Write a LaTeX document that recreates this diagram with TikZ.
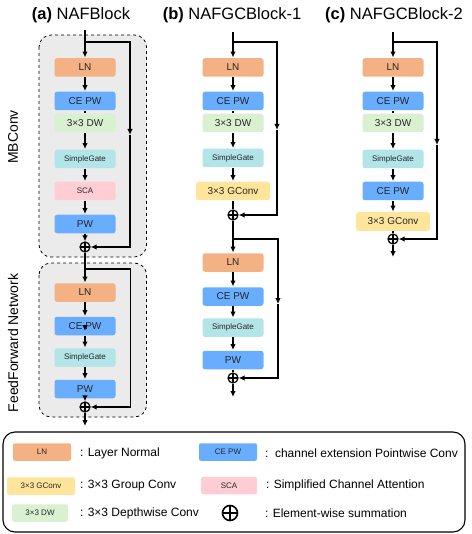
\documentclass[tikz,border=0pt]{standalone}
\usepackage{fontspec}
\setmainfont{Liberation Sans}
\usetikzlibrary{arrows.meta}

\definecolor{lncol}{HTML}{F4B183}
\definecolor{pwcol}{HTML}{69ADFF}
\definecolor{dwcol}{HTML}{D9F0D1}
\definecolor{sgcol}{HTML}{B3E4E7}
\definecolor{scacol}{HTML}{FFCDD3}
\definecolor{gccol}{HTML}{FFE59B}
\definecolor{groupcol}{HTML}{EBEBEB}

\tikzset{
    blk/.style={rounded corners=2.5pt, minimum width=61pt, minimum height=18.5pt,
        inner sep=0pt, text=black!85, font=\fontsize{10}{12}\selectfont},
    smalltxt/.style={font=\fontsize{8}{10}\selectfont},
    wideblk/.style={minimum width=74pt},
    summ/.style={circle, draw, line width=1.2pt, minimum size=10pt, inner sep=0pt,
        path picture={\draw[line width=1.2pt]
            (path picture bounding box.north) -- (path picture bounding box.south)
            (path picture bounding box.west) -- (path picture bounding box.east);}},
    groupbox/.style={draw, dashed, fill=groupcol, rounded corners=12pt, line width=0.8pt},
    title/.style={font=\fontsize{16.5}{18}\selectfont},
    sidelabel/.style={rotate=90, font=\fontsize{14}{16}\selectfont},
    legtxt/.style={anchor=west, font=\fontsize{12}{14}\selectfont},
    legblk/.style={rounded corners=2pt, minimum height=17.5pt, inner sep=0pt,
        text=black!85, font=\fontsize{8}{9}\selectfont}
}

\begin{document}
\begin{tikzpicture}[x=1pt, y=-1pt, line width=1.4pt,
    >={Latex[length=6pt,width=5.5pt]}]
    \useasboundingbox (0,0) rectangle (471,534);

    % titles
    \node[title] (ta) at (81,15) {\textbf{(a)} NAFBlock};
    \node[title] (tb) at (232,15) {\textbf{(b)} NAFGCBlock-1};
    \node[title] (tc) at (394,15) {\textbf{(c)} NAFGCBlock-2};

    % (a) NAFBlock
    \draw[groupbox] (39,35) rectangle (146.5,257);
    \draw[groupbox] (39,263) rectangle (146.5,417);
    \node[sidelabel] (mbc) at (13,137) {MBConv};
    \node[sidelabel] (ffn) at (13,343) {FeedForward Network};

    \coordinate (ina) at (85,30);
    \coordinate (ba1) at (85,42);
    \coordinate (ska1) at (130,135);
    \node[blk, fill=lncol] (lna1) at (85,67.5) {LN};
    \node[blk, fill=pwcol] (cea1) at (85,101) {CE PW};
    \node[blk, fill=dwcol] (dwa1) at (85,123) {3×3 DW};
    \node[blk, smalltxt, fill=sgcol] (sga1) at (85,159) {SimpleGate};
    \node[blk, smalltxt, fill=scacol] (scaa1) at (85,191) {SCA};
    \node[blk, fill=pwcol] (pwa1) at (85,224) {PW};
    \node[summ] (pa1) at (85,247) {};

    \coordinate (ba2) at (85,269);
    \coordinate (ska2) at (130.5,269);
    \node[blk, fill=lncol] (lna2) at (85,292.5) {LN};
    \node[blk, fill=pwcol] (cea2) at (85,326) {CE PW};
    \coordinate (tipa2) at (85,331);
    \node[blk, smalltxt, fill=sgcol] (sga2) at (85,357.5) {SimpleGate};
    \node[blk, fill=pwcol] (pwa2) at (85,389) {PW};
    \node[summ] (pa2) at (85,407) {};
    \coordinate (outa) at (85,426);

    \draw[->] (ina) -- (lna1);
    \draw[->] (lna1) -- (cea1);
    \draw (cea1) -- (dwa1);
    \draw[->] (dwa1) -- (sga1);
    \draw[->] (sga1) -- (scaa1);
    \draw[->] (scaa1) -- (pwa1);
    \draw[->] (pwa1) -- (pa1);
    \draw[->] (ba1) -| (ska1);
    \draw[->] (ska1) |- (pa1);
    \draw[->] (pa1) -- (lna2);
    \draw[->] (lna2) -- (cea2);
    \draw[->] (cea2.center) -- (tipa2);
    \draw[->] (cea2) -- (sga2);
    \draw[->] (sga2) -- (pwa2);
    \draw[->] (pwa2) -- (pa2);
    \draw (ba2) -- (ska2);
    \draw[->] (ska2) |- (pa2);
    \draw[->] (pa2) -- (outa);

    % (b) NAFGCBlock-1
    \coordinate (inb) at (233,32);
    \coordinate (bb1) at (233,42);
    \coordinate (skb1) at (277,130);
    \node[blk, fill=lncol] (lnb1) at (233,67.5) {LN};
    \node[blk, fill=pwcol] (ceb1) at (233,101) {CE PW};
    \node[blk, fill=dwcol] (dwb1) at (233,123) {3×3 DW};
    \node[blk, smalltxt, fill=sgcol] (sgb1) at (233,158) {SimpleGate};
    \node[blk, wideblk, fill=gccol] (gcb1) at (233,191) {3×3 GConv};
    \node[summ] (pb1) at (233,215) {};

    \coordinate (bb2) at (233,239);
    \coordinate (skb2) at (278,304);
    \node[blk, fill=lncol] (lnb2) at (233,262.5) {LN};
    \node[blk, fill=pwcol] (ceb2) at (233,296.5) {CE PW};
    \node[blk, smalltxt, fill=sgcol] (sgb2) at (233,327.5) {SimpleGate};
    \node[blk, fill=pwcol] (pwb2) at (233,360) {PW};
    \node[summ] (pb2) at (233,378) {};
    \coordinate (outb) at (233,397);

    \draw[->] (inb) -- (lnb1);
    \draw[->] (lnb1) -- (ceb1);
    \draw (ceb1) -- (dwb1);
    \draw[->] (dwb1) -- (sgb1);
    \draw[->] (sgb1) -- (gcb1);
    \draw (gcb1) -- (pb1);
    \draw[->] (bb1) -| (skb1);
    \draw[->] (skb1) |- (pb1);
    \draw[->] (pb1) -- (lnb2);
    \draw[->] (lnb2) -- (ceb2);
    \draw[->] (ceb2) -- (sgb2);
    \draw[->] (sgb2) -- (pwb2);
    \draw (pwb2) -- (pb2);
    \draw[->] (bb2) -| (skb2);
    \draw[->] (skb2) |- (pb2);
    \draw[->] (pb2) -- (outb);

    % (c) NAFGCBlock-2
    \coordinate (inc) at (393,32);
    \coordinate (bc1) at (393,42);
    \coordinate (skc1) at (437,145);
    \node[blk, fill=lncol] (lnc1) at (393,67.5) {LN};
    \node[blk, fill=pwcol] (cec1) at (393,101) {CE PW};
    \node[blk, fill=dwcol] (dwc1) at (393,123) {3×3 DW};
    \node[blk, smalltxt, fill=sgcol] (sgc1) at (393,159) {SimpleGate};
    \node[blk, fill=pwcol] (cec2) at (393,191) {CE PW};
    \node[blk, wideblk, fill=gccol] (gcc1) at (393,221.5) {3×3 GConv};
    \node[summ] (pc1) at (393,239) {};
    \coordinate (outc) at (393,257);

    \draw[->] (inc) -- (lnc1);
    \draw[->] (lnc1) -- (cec1);
    \draw (cec1) -- (dwc1);
    \draw[->] (dwc1) -- (sgc1);
    \draw[->] (sgc1) -- (cec2);
    \draw[->] (cec2) -- (gcc1);
    \draw (gcc1) -- (pc1);
    \draw[->] (bc1) -| (skc1);
    \draw[->] (skc1) |- (pc1);
    \draw[->] (pc1) -- (outc);

    % legend
    \draw[rounded corners=12pt, line width=1.1pt] (3,432) rectangle (465,532);
    \node[legblk, minimum width=58pt, fill=lncol] (lgln) at (42,452) {LN};
    \node[legtxt] (lglnt) at (76,453) {: Layer Normal};
    \node[legblk, minimum width=58pt, fill=pwcol] (lgce) at (228,452) {CE PW};
    \node[legtxt] (lgcet) at (261,453) {:\ \ channel extension Pointwise Conv};
    \node[legblk, minimum width=68pt, fill=gccol] (lggc) at (41,486) {3×3 GConv};
    \node[legtxt] (lggct) at (76,486) {: 3×3 Group Conv};
    \node[legblk, minimum width=56pt, fill=scacol] (lgsca) at (229,485.5) {SCA};
    \node[legtxt] (lgscat) at (262,485) {: Simplified Channel Attention};
    \node[legblk, minimum width=56pt, fill=dwcol] (lgdw) at (40,513) {3×3 DW};
    \node[legtxt] (lgdwt) at (76,513) {: 3×3 Depthwise Conv};
    \node[summ, minimum size=15pt, line width=1.6pt] (lgsum) at (230,513) {};
    \node[legtxt] (lgsumt) at (261,513) {: Element-wise summation};
\end{tikzpicture}
\end{document}
